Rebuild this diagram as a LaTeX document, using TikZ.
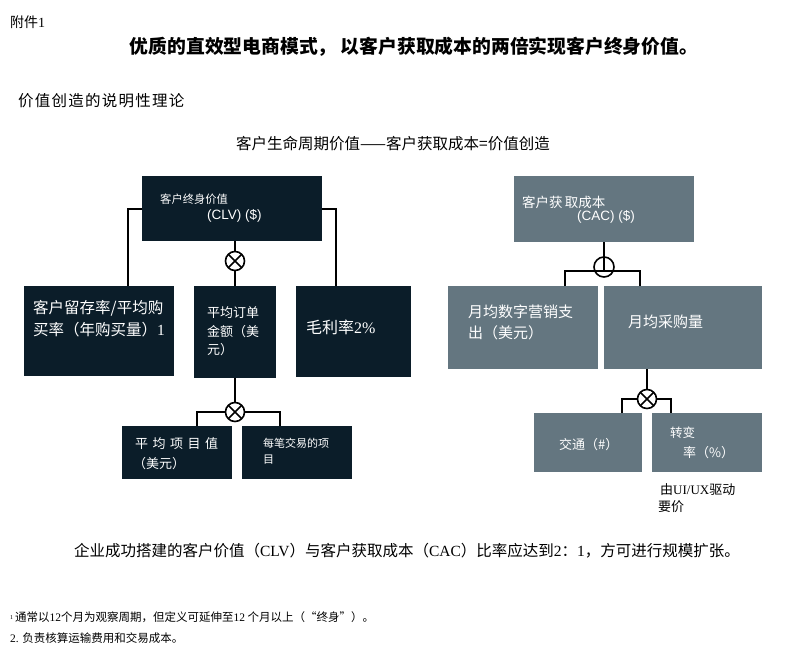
\documentclass[tikz,border=0pt]{standalone}
\usepackage{fontspec}
\setmainfont{Liberation Serif}
\newfontfamily\cjk{Noto Sans CJK SC}
\newfontfamily\arialf{Liberation Sans}
\usetikzlibrary{positioning}
\definecolor{clvnavy}{HTML}{0B1D29}
\definecolor{cacgray}{HTML}{647680}

\begin{document}
\begin{tikzpicture}[x=1pt, y=-1pt,
  navybox/.style={fill=clvnavy, inner sep=0pt, anchor=north west},
  graybox/.style={fill=cacgray, inner sep=0pt, anchor=north west},
  intext/.style={text=white, inner sep=0pt, anchor=west},
  link/.style={line width=1.8pt, black},
  xcirc/.style={circle, draw, line width=1.6pt, fill=white, minimum size=19pt, inner sep=0pt,
    path picture={\draw[line width=1.6pt] (path picture bounding box.north west) -- (path picture bounding box.south east)
      (path picture bounding box.north east) -- (path picture bounding box.south west);}},
  ocirc/.style={circle, draw, line width=1.6pt, minimum size=20pt, inner sep=0pt}]
\useasboundingbox (0,0) rectangle (788,654);
% Headings
\node[anchor=west, inner sep=0pt, font=\cjk\fontsize{14}{16}\selectfont] (annex) at (10,22) {附件{\rmfamily 1}};
\node[inner sep=0pt, font=\cjk\fontsize{18.8}{22}\selectfont\bfseries] (title) at (414,47) {优质的直效型电商模式， 以客户获取成本的两倍实现客户终身价值。};
\node[anchor=west, inner sep=0pt, font=\cjk\fontsize{15.5}{18}\selectfont\addfontfeature{LetterSpace=8}] (theory) at (18,101) {价值创造的说明性理论};
\node[inner sep=0pt, font=\cjk\fontsize{15.5}{18}\selectfont] (formula) at (393,144) {客户生命周期价值——客户获取成本=价值创造};
% CLV tree
\node[navybox, minimum width=180pt, minimum height=65pt] (clv) at (142,176) {};
\node[navybox, minimum width=150pt, minimum height=90pt] (retain) at (24,286) {};
\node[navybox, minimum width=82pt, minimum height=92pt] (aov) at (194,286) {};
\node[navybox, minimum width=115pt, minimum height=91pt] (margin) at (296,286) {};
\node[navybox, minimum width=110pt, minimum height=53pt] (itemval) at (122,426) {};
\node[navybox, minimum width=110pt, minimum height=53pt] (items) at (242,426) {};
\draw[link] (clv.west) -| ([xshift=104pt]retain.north west);
\draw[link] (clv.east) -| ([xshift=40pt]margin.north west);
\draw[link] (clv.south -| aov.north) -- (aov.north);
\node[xcirc] (clvx) at (235,261) {};
\draw[link] ([xshift=75pt]itemval.north west) -- ++(0,-14) -| ([xshift=38pt]items.north west);
\draw[link] (aov.south) -- ++(0,34);
\node[xcirc] (aovx) at (235,412) {};
% CLV texts
\node[intext, font=\cjk\fontsize{11.3}{13}\selectfont] (clvt) at (160,199) {客户终身价值};
\node[intext, font=\arialf\fontsize{13.5}{15}\selectfont] (clvu) at (207,216) {(CLV) (\$)};
\node[intext, font=\cjk\fontsize{15.5}{18}\selectfont] (retaina) at (33,308) {客户留存率/平均购};
\node[intext, font=\cjk\fontsize{15.5}{18}\selectfont] (retainb) at (33,330) {买率（年购买量）{\rmfamily 1}};
\node[intext, font=\cjk\fontsize{13}{15}\selectfont] (aova) at (207,313) {平均订单};
\node[intext, font=\cjk\fontsize{13}{15}\selectfont] (aovb) at (207,332) {金额（美};
\node[intext, font=\cjk\fontsize{13}{15}\selectfont] (aovc) at (207,350) {元）};
\node[intext, font=\cjk\fontsize{16}{18}\selectfont] (margint) at (306,327) {毛利率{\rmfamily 2\%}};
\node[intext, font=\cjk\fontsize{13}{15}\selectfont] (itemvala) at (135,444) {平\hspace{4.5pt}均\hspace{4.5pt}项\hspace{4.5pt}目\hspace{4.5pt}值};
\node[intext, font=\cjk\fontsize{13}{15}\selectfont] (itemvalb) at (133,464) {（美元）};
\node[intext, font=\cjk\fontsize{11}{13}\selectfont] (itemsa) at (263,443) {每笔交易的项};
\node[intext, font=\cjk\fontsize{11}{13}\selectfont] (itemsb) at (263,460) {目};
% CAC tree
\node[graybox, minimum width=180pt, minimum height=66pt] (cac) at (514,176) {};
\node[graybox, minimum width=150pt, minimum height=83pt] (spend) at (448,286) {};
\node[graybox, minimum width=158pt, minimum height=83pt] (volume) at (604,286) {};
\node[graybox, minimum width=108pt, minimum height=59pt] (traffic) at (534,413) {};
\node[graybox, minimum width=110pt, minimum height=59pt] (conv) at (652,413) {};
\draw[link] (cac.south) -- ++(0,29);
\draw[link] ([xshift=117pt]spend.north west) -- ++(0,-15) -| ([xshift=36pt]volume.north west);
\node[ocirc] (cacp) at (604,267) {};
\draw[link] ([xshift=43pt]volume.south west) -- ++(0,29);
\draw[link] ([xshift=88pt]traffic.north west) -- ++(0,-14) -| ([xshift=19pt]conv.north west);
\node[xcirc] (volx) at (647,399) {};
% CAC texts
\node[intext, font=\cjk\fontsize{13.5}{15}\selectfont] (cact) at (522,202) {客户获\,取成本};
\node[intext, font=\arialf\fontsize{13.5}{15}\selectfont] (cacu) at (577,217) {(CAC) (\$)};
\node[intext, font=\cjk\fontsize{15}{18}\selectfont] (spenda) at (468,312) {月均数字营销支};
\node[intext, font=\cjk\fontsize{15}{18}\selectfont] (spendb) at (468,333) {出（美元）};
\node[intext, font=\cjk\fontsize{15}{18}\selectfont] (volumet) at (628,322) {月均采购量};
\node[intext, font=\cjk\fontsize{13}{15}\selectfont] (traffict) at (559,445) {交通（\#）};
\node[intext, font=\cjk\fontsize{12.5}{15}\selectfont] (conva) at (670,433) {转变};
\node[intext, font=\cjk\fontsize{13}{15}\selectfont] (convb) at (683,453) {率（\%）};
\node[anchor=west, inner sep=0pt, font=\cjk\fontsize{13}{15}\selectfont] (uxa) at (660,490) {由{\rmfamily UI/UX}驱动};
\node[anchor=west, inner sep=0pt, font=\cjk\fontsize{13}{15}\selectfont] (uxb) at (658,507) {要价};
% Conclusion and notes
\node[inner sep=0pt, font=\cjk\fontsize{15.5}{18}\selectfont] (ratio) at (407,551) {企业成功搭建的客户价值（{\rmfamily CLV}）与客户获取成本（{\rmfamily CAC}）比率应达到{\rmfamily 2}：{\rmfamily 1}，方可进行规模扩张。};
\node[anchor=west, inner sep=0pt, font=\cjk\fontsize{11.5}{13}\selectfont] (notea) at (10,617) {\raisebox{2pt}{\rmfamily\fontsize{6}{6}\selectfont 1}\,通常以{\rmfamily 12}个月为观察周期，但定义可延伸至{\rmfamily 12} 个月以上（“终身”）。};
\node[anchor=west, inner sep=0pt, font=\cjk\fontsize{11.5}{13}\selectfont] (noteb) at (10,638) {{\rmfamily 2.} 负责核算运输费用和交易成本。};
\end{tikzpicture}
\end{document}
